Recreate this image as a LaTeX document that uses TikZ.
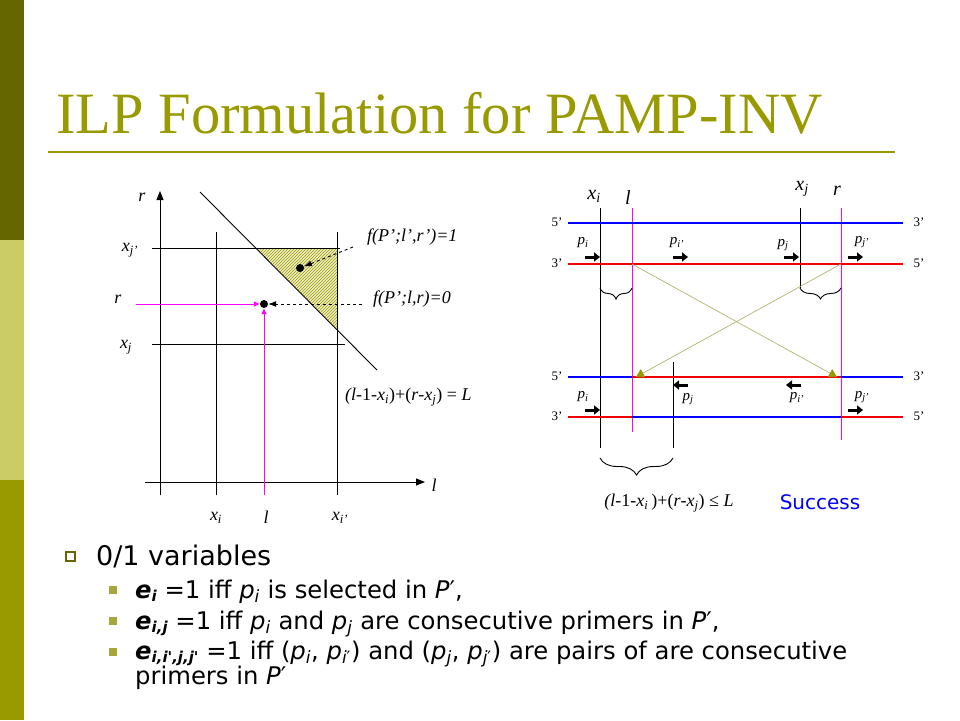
\documentclass[tikz,border=0pt]{standalone}
\usepackage{fontspec}
\setmainfont{Liberation Serif}
\newfontfamily\vsans{DejaVu Sans}
\usetikzlibrary{arrows.meta,patterns,decorations.pathreplacing}
\definecolor{oldark}{HTML}{666600}
\definecolor{ollight}{HTML}{CCCC66}
\definecolor{olmid}{HTML}{999900}
\definecolor{magn}{HTML}{FF00FF}
\definecolor{dnablue}{HTML}{0000FF}
\definecolor{dnared}{HTML}{F00000}
\definecolor{hatchfill}{HTML}{F0F0C8}
\definecolor{crossc}{HTML}{B4B46E}
\definecolor{bulc}{HTML}{A6A63C}
\newcommand{\sbs}[1]{\textsubscript{#1}}
\newcommand{\esub}[1]{\raisebox{-3pt}{\fontsize{15}{15}\selectfont\bfseries\itshape #1}}
\newcommand{\pr}{\textquoteright}
\tikzset{
  lbl/.style={inner sep=0pt, font=\rmfamily\fontsize{18}{20}\selectfont\itshape},
  lblbig/.style={inner sep=0pt, font=\rmfamily\fontsize{20}{22}\selectfont\itshape},
  smlbl/.style={inner sep=0pt, font=\rmfamily\fontsize{15}{17}\selectfont\itshape},
  endlbl/.style={inner sep=0pt, font=\rmfamily\fontsize{13}{15}\selectfont},
  dotc/.style={circle, fill=black, inner sep=0pt, minimum size=8pt},
  chartline/.style={black, line width=1pt},
  strand/.style={line width=2.6pt},
  primer/.style={line width=3pt, -{Triangle[length=6pt,width=9pt]}},
  crossl/.style={crossc, line width=0.7pt, -{Triangle[length=8pt,width=9pt,fill=olmid,color=olmid]}},
  bodytext/.style={inner sep=0pt, anchor=base west, font=\vsans\fontsize{24.3}{26}\selectfont},
  bracebig/.style={decorate, decoration={brace, mirror, amplitude=#1}, line width=0.9pt, black}
}
\begin{document}
\begin{tikzpicture}[x=1pt,y=-1pt]
\useasboundingbox (0,0) rectangle (960,720);
\fill[white] (0,0) rectangle (960,720);
% side bar
\fill[oldark] (0,0) rectangle (24,240);
\fill[ollight] (0,240) rectangle (24,480);
\fill[olmid] (0,480) rectangle (24,720);
% title
\node[inner sep=0pt, anchor=base west, text=olmid, font=\fontsize{58.5}{60}\selectfont] (title) at (56,133) {ILP Formulation for PAMP-INV};
\draw[olmid, line width=2.2pt] (48,152) -- (895,152);

% ---------------- left chart ----------------
\fill[hatchfill] (257,248) -- (337,248) -- (337,329) -- cycle;
\fill[pattern=north east lines, pattern color=olmid] (257,248) -- (337,248) -- (337,329) -- cycle;
\draw[chartline, -{Triangle[length=9pt,width=7pt]}] (160,495) -- (160,191);
\draw[chartline, -{Triangle[length=9pt,width=7pt]}] (145,482) -- (425,482);
\draw[chartline] (216,232) -- (216,495);
\draw[chartline] (337,232) -- (337,495);
\draw[chartline] (152,248) -- (340,248);
\draw[chartline] (152,344) -- (345,344);
\draw[black, line width=0.9pt] (200,192) -- (377,370);
\node[dotc] (d1) at (264,304) {};
\node[dotc] (d2) at (300,268) {};
\coordinate (rstart) at (136,304);
\coordinate (lstart) at (264,495);
\draw[magn, line width=1pt, -{Latex[length=6pt,width=6pt]}] (rstart) -- (d1);
\draw[magn, line width=1pt, -{Latex[length=6pt,width=6pt]}] (lstart) -- (d1);
\node[lbl, anchor=west] (f1) at (367,237) {f(P';l',r')=1};
\node[lbl, anchor=west] (f0) at (373,299) {f(P';l,r)=0};
\coordinate (f1s) at (353,247);
\coordinate (f0s) at (362,304);
\draw[black, dashed, line width=0.9pt, -{Latex[length=8pt,width=6pt]}] (f1s) -- (d2);
\draw[black, dashed, line width=0.9pt, -{Latex[length=8pt,width=6pt]}] (f0s) -- (d1);
\node[lbl, anchor=west] (eqL) at (345,397) {(\textit{l}\textup{-1-}\textit{x}\sbs{\textit{i}}\textup{)+(}\textit{r}\textup{-}\textit{x}\sbs{\textit{j}}\textup{) = }\textit{L}};
\node[lbl] (ar) at (142,197) {r};
\node[lbl] (al) at (434,485) {l};
\node[lbl] (lxjp) at (130,250) {x\sbs{j\pr}};
\node[lbl] (lr) at (118,299) {r};
\node[lbl] (lxj) at (126,347) {x\sbs{j}};
\node[lbl] (bxi) at (216,518) {x\sbs{i}};
\node[lbl] (bl) at (266,517) {l};
\node[lbl] (bxip) at (340,518) {x\sbs{i\pr}};

% ---------------- right diagram ----------------
\draw[chartline] (600,208) -- (600,448);
\draw[chartline] (800,208) -- (800,288);
\draw[chartline] (673,362) -- (673,448);
\draw[magn, line width=0.9pt] (632,208) -- (632,432);
\draw[magn, line width=0.9pt] (841,208) -- (841,440);
\draw[strand, dnablue] (568,223) -- (903,223);
\draw[strand, dnared] (568,264) -- (903,264);
\draw[strand, dnablue] (568,377) -- (632,377);
\draw[strand, dnared] (632,377) -- (841,377);
\draw[strand, dnablue] (841,377) -- (903,377);
\draw[strand, dnared] (568,417) -- (632,417);
\draw[strand, dnablue] (632,417) -- (841,417);
\draw[strand, dnared] (841,417) -- (903,417);
\coordinate (cl1) at (632,264);
\coordinate (cr1) at (841,264);
\coordinate (cl2) at (632,377);
\coordinate (cr2) at (841,377);
\draw[crossl] (cl1) -- ([xshift=-4pt]cr2);
\draw[crossl] (cr1) -- ([xshift=4pt]cl2);
% braces
\draw[bracebig=11pt] (600,288) -- (632,288);
\draw[bracebig=11pt] (800,288) -- (841,288);
\draw[bracebig=17pt] (600,458) -- (673,458);
% strand ends
\node[endlbl] (e1l) at (557,222) {5\pr};
\node[endlbl] (e2l) at (557,263) {3\pr};
\node[endlbl] (e3l) at (557,376) {5\pr};
\node[endlbl] (e4l) at (557,416) {3\pr};
\node[endlbl] (e1r) at (919,222) {3\pr};
\node[endlbl] (e2r) at (919,263) {5\pr};
\node[endlbl] (e3r) at (919,376) {3\pr};
\node[endlbl] (e4r) at (919,416) {5\pr};
% top labels
\node[lblbig] (txi) at (594,196) {x\sbs{i}};
\node[lblbig] (tl) at (628,198) {l};
\node[lblbig] (txj) at (802,189) {x\sbs{j}};
\node[lblbig] (tr) at (837,191) {r};
% primers
\draw[primer] (585,257) -- (600,257);
\draw[primer] (673,257) -- (688,257);
\draw[primer] (784,257) -- (799,257);
\draw[primer] (848,257) -- (863,257);
\draw[primer] (585,410) -- (600,410);
\draw[primer] (688,385) -- (673,385);
\draw[primer] (801,385) -- (786,385);
\draw[primer] (848,410) -- (863,410);
\node[smlbl] (p1) at (583,243) {p\sbs{i}};
\node[smlbl] (p2) at (677,243) {p\sbs{i\pr}};
\node[smlbl] (p3) at (783,245) {p\sbs{j}};
\node[smlbl] (p4) at (862,242) {p\sbs{j\pr}};
\node[smlbl] (p5) at (583,397) {p\sbs{i}};
\node[smlbl] (p6) at (688,399) {p\sbs{j}};
\node[smlbl] (p7) at (797,398) {p\sbs{i\pr}};
\node[smlbl] (p8) at (862,397) {p\sbs{j\pr}};
\node[lbl] (eqR) at (669,503) {(\textit{l}\textup{-1-}\textit{x}\sbs{\textit{i}}\,\textup{)+(}\textit{r}\textup{-}\textit{x}\sbs{\textit{j}}\textup{) ≤ }\textit{L}};
\node[inner sep=0pt, text=dnablue, font=\vsans\fontsize{20}{22}\selectfont] (succ) at (820,502) {Success};

% ---------------- bullet text ----------------
\draw[oldark, line width=1.6pt] (66,552) rectangle (75,561);
\node[inner sep=0pt, anchor=base west, font=\vsans\fontsize{27}{29}\selectfont] (b0) at (96,565) {0/1 variables};
\fill[bulc] (109,586) rectangle (117,594);
\fill[bulc] (109,617) rectangle (117,625);
\fill[bulc] (109,648) rectangle (117,656);
\node[bodytext] (b1) at (135,598) {\textbf{\textit{e}}\esub{i} =1 iff \textit{p}\sbs{\textit{i}} is selected in \textit{P}′,};
\node[bodytext] (b2) at (135,629) {\textbf{\textit{e}}\esub{i,j} =1 iff \textit{p}\sbs{\textit{i}} and \textit{p}\sbs{\textit{j}} are consecutive primers in \textit{P}′,};
\node[bodytext] (b3) at (135,659) {\textbf{\textit{e}}\esub{i,i',j,j'} =1 iff (\textit{p}\sbs{\textit{i}}, \textit{p}\sbs{\textit{i}′}) and (\textit{p}\sbs{\textit{j}}, \textit{p}\sbs{\textit{j}′}) are pairs of are consecutive};
\node[bodytext] (b4) at (135,684) {primers in \textit{P}′};
\end{tikzpicture}
\end{document}
